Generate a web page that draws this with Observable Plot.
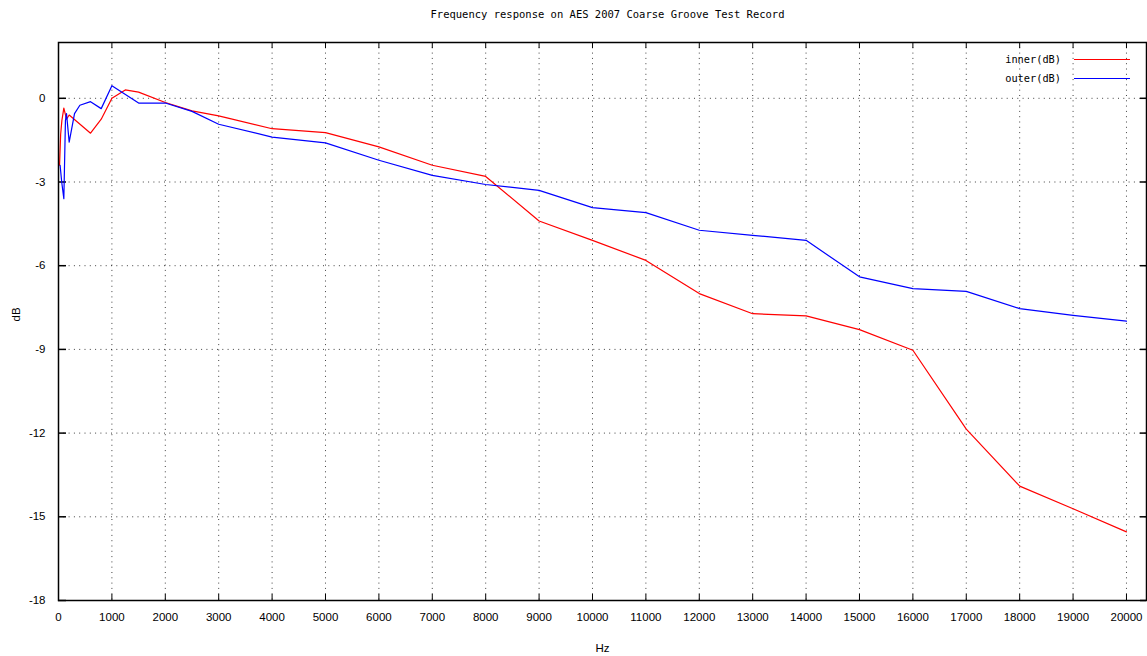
<!DOCTYPE html>
<html><head><meta charset="utf-8">
<script src="https://cdn.jsdelivr.net/npm/d3@7"></script>
<script src="https://cdn.jsdelivr.net/npm/@observablehq/plot@0.6"></script>
<style>
body{margin:0;background:#fff;}
#wrap{position:relative;width:1147px;height:656px;overflow:hidden;}
.lg{position:absolute;font-family:"DejaVu Sans Mono",monospace;font-size:10.3px;color:#000;white-space:nowrap;line-height:12px;}
.ln{position:absolute;height:0;border-top:1px solid;}
</style></head>
<body><div id="wrap"></div>
<script>
const titleText = "Frequency response on AES 2007 Coarse Groove Test Record";
const xLabel = "Hz";
const yLabel = "dB";
const seriesNames = ["inner(dB)", "outer(dB)"];
const seriesColors = ["#ff0000", "#0000ff"];

const innerHz = [20, 40, 63, 100, 150, 200, 600, 800, 1000, 1250, 1500, 2000, 2500, 3000, 4000, 5000, 6000, 7000, 8000, 9000, 10000, 11000, 12000, 13000, 14000, 15000, 16000, 17000, 18000, 19000, 20000];
const innerDb = [-2.4, -1.3, -0.8, -0.35, -0.75, -0.6, -1.25, -0.75, 0.0, 0.3, 0.22, -0.15, -0.45, -0.63, -1.09, -1.23, -1.74, -2.40, -2.80, -4.40, -5.09, -5.81, -7.0, -7.72, -7.80, -8.29, -9.03, -11.86, -13.9, -14.71, -15.54];

const outerHz = [30, 60, 100, 130, 150, 200, 300, 400, 600, 800, 1000, 1500, 2000, 2500, 3000, 4000, 5000, 6000, 7000, 8000, 9000, 10000, 11000, 12000, 13000, 14000, 15000, 16000, 17000, 18000, 19000, 20000];
const outerDb = [-2.4, -3.0, -3.6, -0.8, -0.55, -1.57, -0.55, -0.25, -0.12, -0.37, 0.45, -0.17, -0.17, -0.47, -0.93, -1.39, -1.60, -2.22, -2.76, -3.09, -3.3, -3.92, -4.10, -4.73, -4.91, -5.09, -6.40, -6.82, -6.92, -7.54, -7.78, -7.99];

const xTicks = [0,1000,2000,3000,4000,5000,6000,7000,8000,9000,10000,11000,12000,13000,14000,15000,16000,17000,18000,19000,20000];
const yTicks = [-18,-15,-12,-9,-6,-3,0];

const inner = innerHz.map((h,i)=>({hz:h, db:innerDb[i]}));
const outer = outerHz.map((h,i)=>({hz:h, db:outerDb[i]}));

const W = 1147, H = 656, mL = 58, mR = 1, mT = 42, mB = 56;
const fw = W - mL - mR, fh = H - mT - mB, tl = 6;
const grid = {stroke:"#000", strokeOpacity:0.75, strokeDasharray:"1,4.3", strokeWidth:1};
const fmt = d => String(d);

const chart = Plot.plot({
  width: W, height: H,
  marginLeft: mL, marginRight: mR, marginTop: mT, marginBottom: mB,
  style: {fontFamily: "Liberation Sans, Arial, sans-serif", fontSize: "11.5px", background: "#fff", color: "#000"},
  x: {domain: [0, 20375], ticks: xTicks, tickFormat: fmt},
  y: {domain: [-18, 2], ticks: yTicks, tickFormat: fmt},
  marks: [
    Plot.ruleX(xTicks.filter(d => d > 0), grid),
    Plot.ruleY(yTicks.filter(d => d > -18), grid),
    Plot.ruleX(xTicks, {stroke:"#000", strokeWidth:1, insetTop: fh - tl}),
    Plot.ruleX(xTicks, {stroke:"#000", strokeWidth:1, insetBottom: fh - tl}),
    Plot.ruleY(yTicks, {stroke:"#000", strokeWidth:1.5, insetRight: fw - tl - 2}),
    Plot.ruleY(yTicks, {stroke:"#000", strokeWidth:1.5, insetLeft: fw - tl}),
    Plot.axisX(xTicks, {tickSize: 0, tickPadding: 12, label: null, tickFormat: fmt, fontSize: 11.5}),
    Plot.axisY(yTicks, {tickSize: 0, tickPadding: 13, label: null, tickFormat: fmt, fontSize: 11.5}),
    Plot.line(inner, {x: "hz", y: "db", stroke: seriesColors[0], strokeWidth: 1.2}),
    Plot.line(outer, {x: "hz", y: "db", stroke: seriesColors[1], strokeWidth: 1.2}),
    Plot.frame({stroke: "#000", strokeWidth: 1.5}),
    Plot.text([titleText], {frameAnchor: "top", lineAnchor: "middle", dy: -28, dx: 5, fontFamily: "DejaVu Sans Mono, monospace", fontSize: 10.5}),
    Plot.text([xLabel], {frameAnchor: "bottom", lineAnchor: "middle", dy: 48, fontSize: 11.5}),
    Plot.text([yLabel], {frameAnchor: "left", dx: -42, rotate: -90, fontSize: 11.5})
  ]
});
const wrap = document.getElementById("wrap");
wrap.appendChild(chart);

seriesNames.forEach((name, i) => {
  const cy = [59, 78][i];
  const t = document.createElement("div");
  t.className = "lg";
  t.textContent = name;
  t.style.right = (W - 1061) + "px";
  t.style.top = (cy - 6) + "px";
  wrap.appendChild(t);
  const l = document.createElement("div");
  l.className = "ln";
  l.style.left = "1074px";
  l.style.width = "56px";
  l.style.top = cy + "px";
  l.style.borderColor = seriesColors[i];
  wrap.appendChild(l);
});
</script>
</body></html>
